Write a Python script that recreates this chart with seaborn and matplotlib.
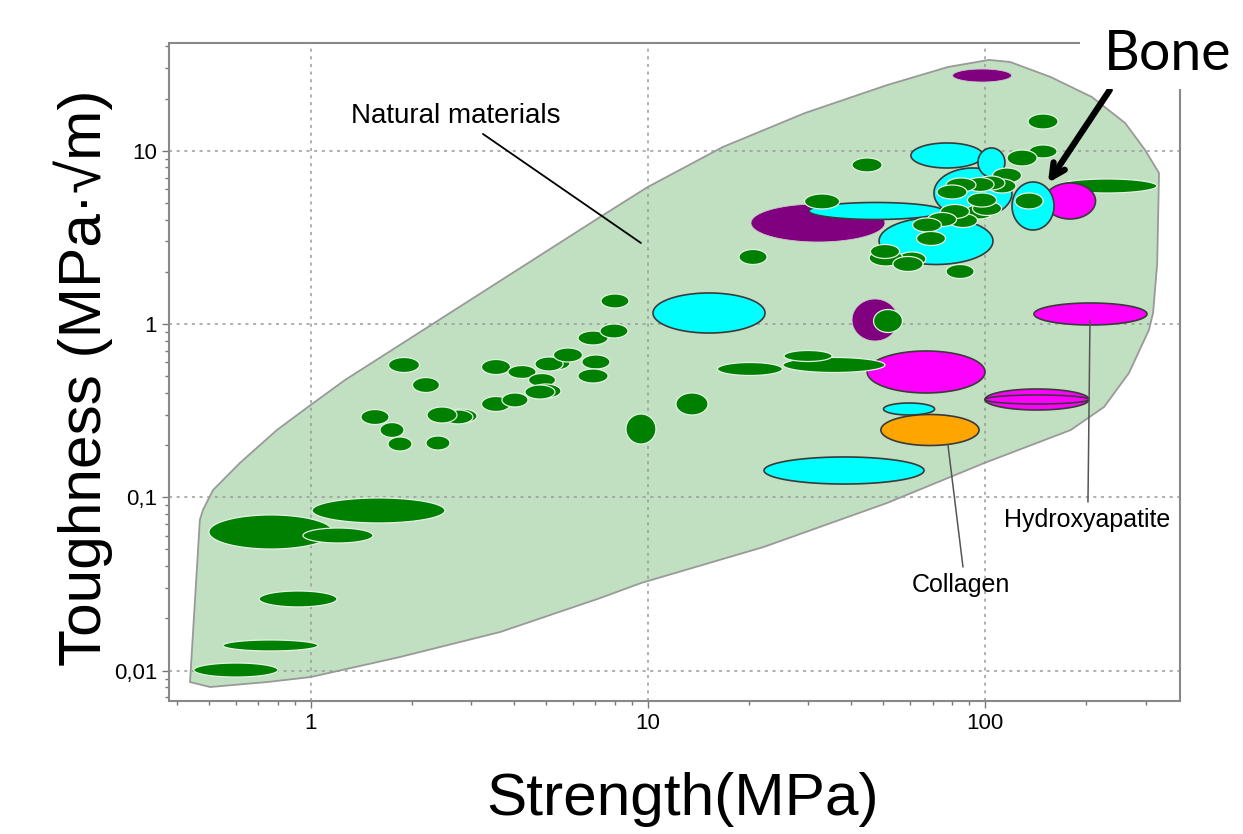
import numpy as np
import matplotlib
matplotlib.use("Agg")
import matplotlib.pyplot as plt
import seaborn as sns
from matplotlib.patches import Rectangle
from matplotlib.ticker import FixedLocator, FixedFormatter, LogLocator, NullFormatter

# ---- data ----
# natural materials envelope, strength (MPa) / toughness (MPa*sqrt(m))
env_strength = [0.4385, 0.469, 0.479, 0.513, 0.617, 0.794, 1.0, 1.264, 7.22, 10.0, 16.7, 29.3,
                51.3, 77.8, 103, 119, 157, 208, 261, 299, 329, 325, 316, 307, 268, 226, 180,
                100, 51.3, 22.1, 9.55, 7.22, 3.65, 1.84, 1.0, 0.742, 0.503]
env_tough = [0.00859, 0.0740, 0.0845, 0.110, 0.158, 0.2445, 0.341, 0.475, 4.14, 6.17, 10.5, 16.5,
             23.9, 30.4, 33.4, 32.5, 26.6, 20.4, 14.45, 10.1, 7.43, 2.25, 1.16, 0.923, 0.522, 0.332,
             0.2445, 0.158, 0.0927, 0.0517, 0.0320, 0.0262, 0.0167, 0.01198, 0.00918, 0.00859, 0.00804]

# material bubbles: class, strength range, toughness range (drawn in this order)
kind = ["purple", "purple", "purple", "green",
        "cyan", "cyan", "cyan", "cyan", "cyan",
        "magenta", "cyan", "cyan", "magenta", "cyan", "orange", "cyan",
        "magenta", "magenta", "magenta"] + ["green"] * 70
s_lo = [80.3, 20.25, 40.4, 163.9,
        30.1, 48.6, 70.7, 60.4, 95.5,
        150.5, 120.5, 10.37, 44.8, 50.1, 49.2, 22.14,
        140, 100.2, 100.2,
        0.499, 0.949, 1.01, 0.703, 0.549, 0.450,
        1.41, 1.606, 1.696, 1.702, 2.005, 2.54, 2.47, 2.214, 2.199,
        3.213, 3.213, 3.695, 3.85, 4.43, 4.506, 4.324, 4.857, 4.63, 5.254,
        6.213, 7.22, 6.38, 6.21, 7.27, 8.62, 12.13, 16.11, 25.2, 25.38, 46.8,
        40.4, 29.2, 18.66, 134.5, 135.3, 116.5, 105.5,
        102.3, 94.9, 88.0, 76.8, 72.2, 87.1, 92.0, 88.9, 78.1, 73.9, 67.7, 61.1, 62.8,
        55.3, 45.4, 45.8, 53.4, 76.8, 123]
s_hi = [120.1, 50.6, 55.3, 324.5,
        75.2, 105.8, 120.5, 98.9, 114.8,
        213.2, 160.6, 22.29, 100.2, 71.0, 96.2, 66.06,
        303, 204, 204,
        1.165, 1.531, 2.503, 1.197, 1.051, 0.80,
        1.708, 1.892, 1.998, 2.103, 2.411, 3.115, 3.03, 2.717, 2.59,
        3.917, 3.917, 4.414, 4.664, 5.326, 5.53, 5.307, 5.88, 5.61, 6.405,
        7.625, 8.74, 7.73, 7.63, 8.80, 10.58, 15.1, 25.1, 50.6, 35.24, 57.0,
        49.6, 37.1, 22.6, 165, 163.9, 143, 128.6,
        123.8, 114.8, 106.6, 94.2, 88.6, 106.2, 112.2, 108.4, 95.2, 90.1, 82.5, 74.4, 76.5,
        66.9, 57.2, 55.9, 65.6, 93.0, 149]
k_lo = [24.9, 2.973, 0.798, 5.70,
        4.009, 2.205, 4.09, 7.946, 7.05,
        4.036, 3.486, 0.887, 0.40, 0.2985, 0.199, 0.1193,
        0.987, 0.319, 0.3454,
        0.0503, 0.0545, 0.0711, 0.0233, 0.01298, 0.00918,
        0.263, 0.2214, 0.185, 0.525, 0.4025, 0.268, 0.265, 0.2684, 0.1874,
        0.511, 0.3128, 0.332, 0.485, 0.4358, 0.374, 0.369, 0.543, 0.5355, 0.6035,
        0.7567, 0.830, 0.550, 0.4566, 1.237, 0.203, 0.2985, 0.5045, 0.525, 0.6077, 0.893,
        7.54, 4.61, 2.205, 13.34, 9.08, 8.16, 6.51,
        5.70, 5.93, 5.815, 5.78, 5.265, 4.036, 4.228, 4.73, 3.604, 4.063, 3.652, 3.395, 2.838,
        2.161, 2.161, 2.388, 2.009, 1.83, 4.61]
k_hi = [29.6, 4.925, 1.394, 6.867,
        5.025, 4.117, 7.946, 11.08, 10.37,
        6.51, 6.60, 1.51, 0.6985, 0.350, 0.3005, 0.1709,
        1.322, 0.4216, 0.3894,
        0.0791, 0.0665, 0.0991, 0.0288, 0.01502, 0.01106,
        0.321, 0.270, 0.2228, 0.641, 0.491, 0.323, 0.319, 0.332, 0.2258,
        0.624, 0.3817, 0.40, 0.576, 0.518, 0.4505, 0.4446, 0.654, 0.645, 0.727,
        0.911, 1.0, 0.6625, 0.550, 1.49, 0.3024, 0.40, 0.5996, 0.641, 0.7033, 1.212,
        9.08, 5.626, 2.692, 16.28, 10.79, 10.09, 7.946,
        6.867, 7.145, 7.0, 6.96, 6.34, 4.86, 5.09, 5.70, 4.34, 4.894, 4.40, 4.09, 3.418,
        2.603, 2.673, 2.876, 2.452, 2.205, 5.70]

x_ticks = [1, 10, 100]
x_labels = ["1", "10", "100"]
y_ticks = [0.01, 0.1, 1, 10]
y_labels = ["0,01", "0,1", "1", "10"]

colors = {"green": ("#008000", "#e4f2e4", 0.9),
          "cyan": ("#00ffff", "#3a3a3a", 1.2),
          "magenta": ("#ff00ff", "#3a3a3a", 1.2),
          "purple": ("#800080", "#c8c8c8", 0.6),
          "orange": ("#ffa500", "#3a3a3a", 1.2)}

# ---- plot ----
sns.set_theme(style="white")
plt.rcParams["font.family"] = ["Liberation Sans", "DejaVu Sans"]
plt.rcParams["text.color"] = "black"

fig = plt.figure(figsize=(12.43, 8.34), dpi=100)
ax = fig.add_axes([0.136, 0.1595, 0.8134, 0.7889])
ax.set_xscale("log")
ax.set_yscale("log")
ax.set_xlim(0.38, 380)
ax.set_ylim(0.00668, 41.8)

ax.fill(env_strength, env_tough, fc="#c1e0c1", ec="#999999", lw=1.3, zorder=0.4)

t = np.linspace(0, 2 * np.pi, 160)
for kd, a, b, c, d in zip(kind, s_lo, s_hi, k_lo, k_hi):
    cx, rx = (np.log10(a) + np.log10(b)) / 2, (np.log10(b) - np.log10(a)) / 2
    cy, ry = (np.log10(c) + np.log10(d)) / 2, (np.log10(d) - np.log10(c)) / 2
    fc, ec, lw = colors[kd]
    ax.fill(10 ** (cx + rx * np.cos(t)), 10 ** (cy + ry * np.sin(t)), fc=fc, ec=ec, lw=lw, zorder=2)

ax.set_axisbelow(True)
ax.grid(True, which="major", ls=(0, (2, 3)), color="#9a9a9a", lw=1.1)
ax.xaxis.set_major_locator(FixedLocator(x_ticks))
ax.xaxis.set_major_formatter(FixedFormatter(x_labels))
ax.yaxis.set_major_locator(FixedLocator(y_ticks))
ax.yaxis.set_major_formatter(FixedFormatter(y_labels))
for axis in (ax.xaxis, ax.yaxis):
    axis.set_minor_locator(LogLocator(base=10, subs=np.arange(2, 10)))
    axis.set_minor_formatter(NullFormatter())
ax.tick_params(which="both", direction="out", color="#777777", width=1, labelsize=16,
               labelcolor="black", bottom=True, left=True)
ax.tick_params(which="major", length=5)
ax.tick_params(which="minor", length=3)
for sp in ax.spines.values():
    sp.set_color("#888888")
    sp.set_linewidth(1.5)

# annotations
ax.text(1.317, 15.85, "Natural materials", fontsize=20, va="center", ha="left")
ax.plot([3.245, 9.55], [12.49, 2.934], color="black", lw=1.3, zorder=3)
ax.text(85.0, 0.0312, "Collagen", fontsize=18, va="center", ha="center")
ax.plot([86.2, 77.8], [0.0396, 0.2003], color="#555555", lw=1.1, zorder=3)
ax.text(201, 0.074, "Hydroxyapatite", fontsize=18, va="center", ha="center")
ax.plot([202.5, 205.3], [0.0939, 1.054], color="#555555", lw=1.1, zorder=3)
ax.annotate("", xy=(154, 6.51), xytext=(235, 22.4), annotation_clip=False,
            arrowprops=dict(arrowstyle="->", lw=4.5, color="black", mutation_scale=24,
                            shrinkA=0, shrinkB=0))

fig.add_artist(Rectangle((1080 / 1243, 1 - 89 / 834), 1 - 1080 / 1243, 89 / 834,
                         transform=fig.transFigure, fc="white", ec="none", zorder=5))
fig.text(1104 / 1243, 1 - 70 / 834, "Bone", fontsize=40, va="baseline", ha="left",
         family=["Lato", "DejaVu Sans"], zorder=6)

fig.text(683 / 1243, 1 - 815 / 834, "Strength(MPa)", fontsize=43.5, ha="center", va="baseline")
fig.text(83 / 1243, 1 - 378 / 834, "Toughness (MPa·√m)", fontsize=43.5, rotation=90,
         ha="center", va="center")

fig.savefig("out.png", dpi=100)
